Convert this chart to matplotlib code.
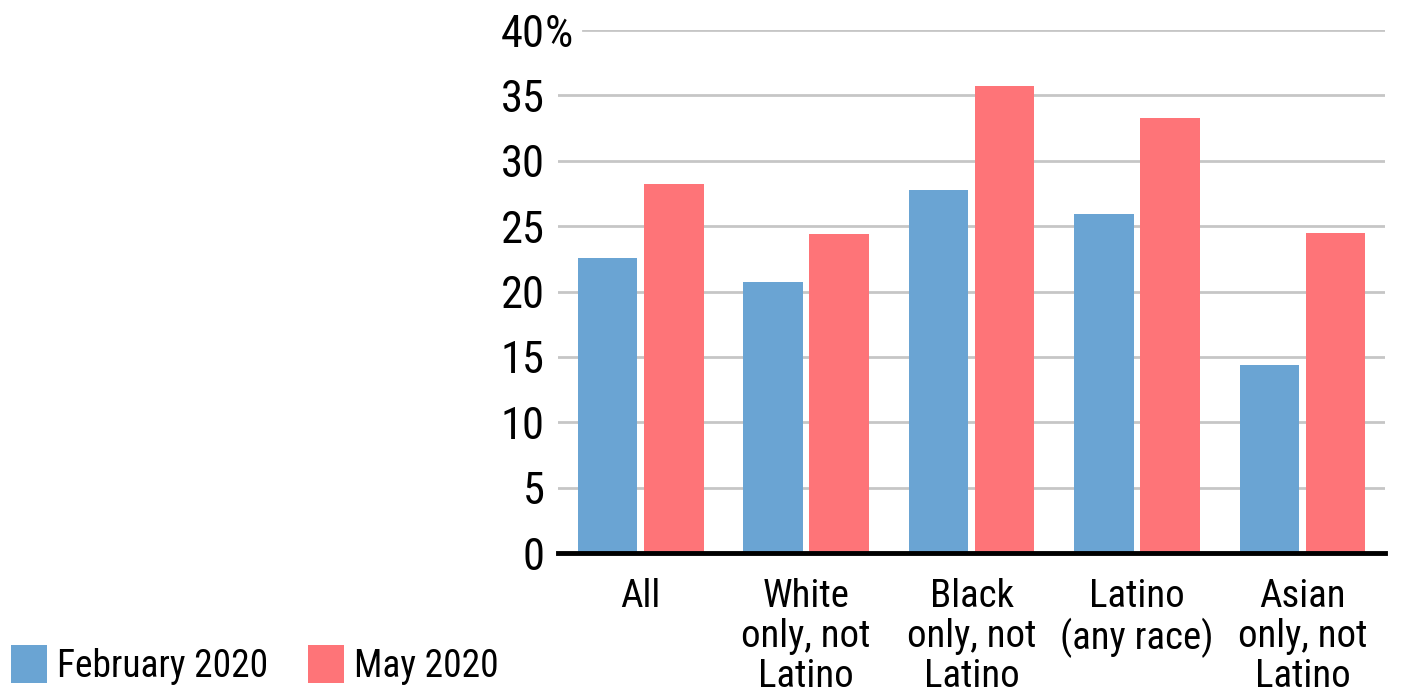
import matplotlib.pyplot as plt
from matplotlib import font_manager
import numpy as np

categories = ['All', 'White\nonly, not\nLatino', 'Black\nonly, not\nLatino',
              'Latino\n(any race)', 'Asian\nonly, not\nLatino']
feb_2020 = [22.6, 20.7, 27.8, 25.9, 14.4]
may_2020 = [28.2, 24.4, 35.7, 33.3, 24.5]
y_ticks = [0, 5, 10, 15, 20, 25, 30, 35, 40]
y_tick_labels = ['0', '5', '10', '15', '20', '25', '30', '35', '40']

BLUE = '#6aa4d3'
RED = '#fe7478'

# pick a narrow face if one is around
names = {f.name for f in font_manager.fontManager.ttflist}
narrow = [n for n in ['Roboto Condensed', 'Liberation Sans Narrow'] if n in names]
plt.rcParams['font.family'] = narrow + ['DejaVu Sans']
plt.rcParams['font.stretch'] = 'condensed'

fig = plt.figure(figsize=(14.02, 7.0), dpi=100)
ax = fig.add_axes([0.398, 0.21, 0.59, 0.747])

x = np.arange(len(categories))
w = 0.36
ax.bar(x - 0.2, feb_2020, w, color=BLUE, label='February 2020', zorder=3)
ax.bar(x + 0.2, may_2020, w, color=RED, label='May 2020', zorder=3)

ax.set_xlim(-0.5, 4.5)
ax.set_ylim(0, 40)
ax.set_yticks(y_ticks)
ax.set_yticklabels(y_tick_labels, fontsize=32)
ax.set_xticks(x)
ax.set_xticklabels(categories, fontsize=28, linespacing=1.1, va='top')
ax.tick_params(axis='both', length=0)
ax.tick_params(axis='y', pad=9.5)
ax.tick_params(axis='x', pad=18)

# the % sign hangs to the right of the top label
ax.annotate('%', xy=(0, 40), xycoords=('axes fraction', 'data'),
            xytext=(-9.5, 0), textcoords='offset points',
            ha='left', va='center_baseline', fontsize=32)

# grid lines (the 40% one starts further right in the original)
for t in y_ticks[1:]:
    xmin = 0.03 if t == 40 else 0.0
    ax.axhline(t, xmin=xmin, xmax=1.0, color='#c6c6c6', lw=2, zorder=1)

for s in ['top', 'right', 'left']:
    ax.spines[s].set_visible(False)
ax.spines['bottom'].set_linewidth(3.5)
ax.spines['bottom'].set_zorder(4)

fig.legend(loc='lower left', bbox_to_anchor=(0.0, 4 / 700), ncol=2, frameon=False,
           fontsize=27, handlelength=0.96, handleheight=1.17, handletextpad=0.27,
           columnspacing=1.04, borderaxespad=0, borderpad=0.3)

fig.savefig('out.png', dpi=100)
